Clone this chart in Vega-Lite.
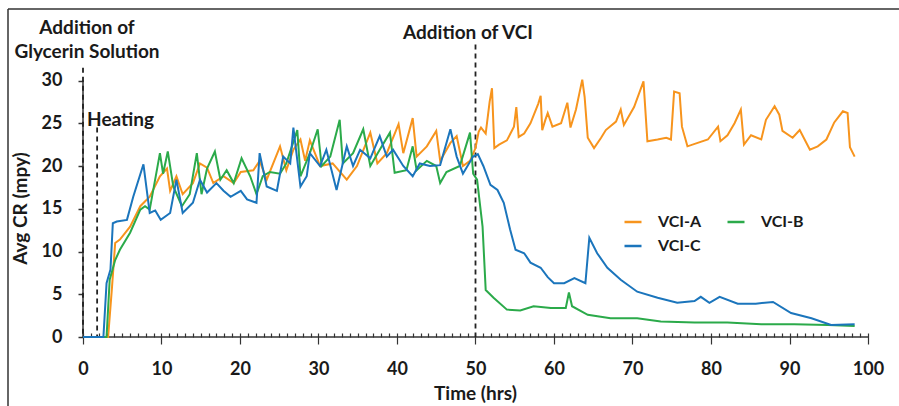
{
  "$schema": "https://vega.github.io/schema/vega-lite/v6.json",
  "description": "Average corrosion rate over time for three VCI formulations, with glycerin, heating and VCI addition events.",
  "autosize": "none",
  "padding": {"left": 8, "top": 9, "right": 0, "bottom": 0},
  "width": 891,
  "height": 397,
  "background": "white",
  "config": {
    "view": {"stroke": null},
    "font": "Lato",
    "axis": {"ticks": true, "labelFont": "Lato", "titleFont": "Lato", "labelFontWeight": "bold", "titleFontWeight": "bold", "labelColor": "#1a1a1a", "titleColor": "#1a1a1a", "tickColor": "#333", "tickOpacity": 1, "grid": false}
  },
  "datasets": {
    "cr": [
      {"series": "VCI-A", "t": 0, "v": 0}, {"series": "VCI-A", "t": 3.2, "v": 0}, {"series": "VCI-A", "t": 3.7, "v": 5.9}, {"series": "VCI-A", "t": 4.1, "v": 11}, {"series": "VCI-A", "t": 4.7, "v": 11.4}, {"series": "VCI-A", "t": 6.0, "v": 12.9}, {"series": "VCI-A", "t": 7.3, "v": 15.3}, {"series": "VCI-A", "t": 8.5, "v": 16.4}, {"series": "VCI-A", "t": 9.8, "v": 18.8}, {"series": "VCI-A", "t": 10.7, "v": 19.7}, {"series": "VCI-A", "t": 11.1, "v": 17.1}, {"series": "VCI-A", "t": 11.9, "v": 18.8}, {"series": "VCI-A", "t": 12.7, "v": 16.7}, {"series": "VCI-A", "t": 14.0, "v": 18}, {"series": "VCI-A", "t": 14.9, "v": 20.3}, {"series": "VCI-A", "t": 15.8, "v": 19.8}, {"series": "VCI-A", "t": 16.6, "v": 18}, {"series": "VCI-A", "t": 17.9, "v": 18.8}, {"series": "VCI-A", "t": 19.2, "v": 18}, {"series": "VCI-A", "t": 20.1, "v": 19.3}, {"series": "VCI-A", "t": 21.7, "v": 19.5}, {"series": "VCI-A", "t": 22.5, "v": 20.6}, {"series": "VCI-A", "t": 23.4, "v": 18.4}, {"series": "VCI-A", "t": 25.1, "v": 22.3}, {"series": "VCI-A", "t": 25.9, "v": 19.5}, {"series": "VCI-A", "t": 26.8, "v": 21.9}, {"series": "VCI-A", "t": 27.7, "v": 23.1}, {"series": "VCI-A", "t": 28.3, "v": 20.6}, {"series": "VCI-A", "t": 28.9, "v": 23}, {"series": "VCI-A", "t": 30.2, "v": 20}, {"series": "VCI-A", "t": 31.8, "v": 20.3}, {"series": "VCI-A", "t": 33.6, "v": 18.4}, {"series": "VCI-A", "t": 34.9, "v": 20}, {"series": "VCI-A", "t": 36.6, "v": 23.9}, {"series": "VCI-A", "t": 37.5, "v": 20.3}, {"series": "VCI-A", "t": 38.7, "v": 21.5}, {"series": "VCI-A", "t": 40.2, "v": 24.9}, {"series": "VCI-A", "t": 40.8, "v": 21.5}, {"series": "VCI-A", "t": 42.0, "v": 25.6}, {"series": "VCI-A", "t": 42.5, "v": 21.1}, {"series": "VCI-A", "t": 43.8, "v": 22.3}, {"series": "VCI-A", "t": 45.0, "v": 24.1}, {"series": "VCI-A", "t": 45.5, "v": 20.6}, {"series": "VCI-A", "t": 46.8, "v": 22.7}, {"series": "VCI-A", "t": 47.6, "v": 23.5}, {"series": "VCI-A", "t": 48.4, "v": 20}, {"series": "VCI-A", "t": 49.3, "v": 20.6}, {"series": "VCI-A", "t": 50.0, "v": 22.1}, {"series": "VCI-A", "t": 50.4, "v": 24.0}, {"series": "VCI-A", "t": 50.7, "v": 24.5}, {"series": "VCI-A", "t": 51.3, "v": 23.8}, {"series": "VCI-A", "t": 51.8, "v": 27.5}, {"series": "VCI-A", "t": 52.1, "v": 29.1}, {"series": "VCI-A", "t": 52.4, "v": 22.1}, {"series": "VCI-A", "t": 53.0, "v": 22.5}, {"series": "VCI-A", "t": 54.0, "v": 23.0}, {"series": "VCI-A", "t": 54.9, "v": 24.6}, {"series": "VCI-A", "t": 55.2, "v": 26.9}, {"series": "VCI-A", "t": 55.5, "v": 23.4}, {"series": "VCI-A", "t": 56.2, "v": 23.8}, {"series": "VCI-A", "t": 57.0, "v": 25.0}, {"series": "VCI-A", "t": 58.0, "v": 27.3}, {"series": "VCI-A", "t": 58.3, "v": 28.2}, {"series": "VCI-A", "t": 58.5, "v": 24.2}, {"series": "VCI-A", "t": 58.9, "v": 25.4}, {"series": "VCI-A", "t": 59.2, "v": 26.2}, {"series": "VCI-A", "t": 59.8, "v": 24.6}, {"series": "VCI-A", "t": 60.9, "v": 25.0}, {"series": "VCI-A", "t": 61.7, "v": 27.4}, {"series": "VCI-A", "t": 62.1, "v": 24.5}, {"series": "VCI-A", "t": 62.8, "v": 26.6}, {"series": "VCI-A", "t": 63.6, "v": 30.1}, {"series": "VCI-A", "t": 63.9, "v": 28.1}, {"series": "VCI-A", "t": 64.3, "v": 23.3}, {"series": "VCI-A", "t": 65.1, "v": 22.1}, {"series": "VCI-A", "t": 66.0, "v": 23.3}, {"series": "VCI-A", "t": 66.6, "v": 24.2}, {"series": "VCI-A", "t": 67.9, "v": 25.2}, {"series": "VCI-A", "t": 68.5, "v": 26.6}, {"series": "VCI-A", "t": 68.9, "v": 24.8}, {"series": "VCI-A", "t": 70.2, "v": 26.9}, {"series": "VCI-A", "t": 71.4, "v": 29.9}, {"series": "VCI-A", "t": 71.9, "v": 22.9}, {"series": "VCI-A", "t": 73.2, "v": 23.1}, {"series": "VCI-A", "t": 74.3, "v": 23.3}, {"series": "VCI-A", "t": 74.9, "v": 23.1}, {"series": "VCI-A", "t": 75.3, "v": 28.7}, {"series": "VCI-A", "t": 76.0, "v": 28.5}, {"series": "VCI-A", "t": 76.3, "v": 24.6}, {"series": "VCI-A", "t": 77.0, "v": 22.3}, {"series": "VCI-A", "t": 78.3, "v": 22.7}, {"series": "VCI-A", "t": 79.6, "v": 23.1}, {"series": "VCI-A", "t": 80.9, "v": 24.6}, {"series": "VCI-A", "t": 81.2, "v": 22.9}, {"series": "VCI-A", "t": 82.1, "v": 23.6}, {"series": "VCI-A", "t": 83.0, "v": 25.0}, {"series": "VCI-A", "t": 83.8, "v": 26.6}, {"series": "VCI-A", "t": 84.2, "v": 22.5}, {"series": "VCI-A", "t": 85.1, "v": 23.6}, {"series": "VCI-A", "t": 86.4, "v": 23.1}, {"series": "VCI-A", "t": 87.0, "v": 25.4}, {"series": "VCI-A", "t": 88.1, "v": 27.0}, {"series": "VCI-A", "t": 88.7, "v": 26.0}, {"series": "VCI-A", "t": 89.1, "v": 24.1}, {"series": "VCI-A", "t": 90.4, "v": 23.3}, {"series": "VCI-A", "t": 91.3, "v": 24.2}, {"series": "VCI-A", "t": 92.6, "v": 21.9}, {"series": "VCI-A", "t": 93.6, "v": 22.3}, {"series": "VCI-A", "t": 94.7, "v": 23.1}, {"series": "VCI-A", "t": 95.7, "v": 25.1}, {"series": "VCI-A", "t": 96.8, "v": 26.4}, {"series": "VCI-A", "t": 97.4, "v": 26.2}, {"series": "VCI-A", "t": 97.7, "v": 22.2}, {"series": "VCI-A", "t": 98.3, "v": 21.1},

      {"series": "VCI-B", "t": 0, "v": 0}, {"series": "VCI-B", "t": 3.0, "v": 0}, {"series": "VCI-B", "t": 3.4, "v": 6.7}, {"series": "VCI-B", "t": 4.1, "v": 9}, {"series": "VCI-B", "t": 4.7, "v": 10.2}, {"series": "VCI-B", "t": 6.0, "v": 12.2}, {"series": "VCI-B", "t": 7.3, "v": 14.9}, {"series": "VCI-B", "t": 7.9, "v": 15.3}, {"series": "VCI-B", "t": 8.5, "v": 14.9}, {"series": "VCI-B", "t": 9.8, "v": 21.5}, {"series": "VCI-B", "t": 10.2, "v": 19.1}, {"series": "VCI-B", "t": 10.8, "v": 21.7}, {"series": "VCI-B", "t": 11.5, "v": 17.6}, {"series": "VCI-B", "t": 12.6, "v": 15.3}, {"series": "VCI-B", "t": 13.6, "v": 16.7}, {"series": "VCI-B", "t": 14.5, "v": 21.5}, {"series": "VCI-B", "t": 15.1, "v": 16.7}, {"series": "VCI-B", "t": 15.8, "v": 19.7}, {"series": "VCI-B", "t": 16.8, "v": 21.7}, {"series": "VCI-B", "t": 17.5, "v": 18.4}, {"series": "VCI-B", "t": 18.3, "v": 19.5}, {"series": "VCI-B", "t": 19.2, "v": 18}, {"series": "VCI-B", "t": 20.2, "v": 20.9}, {"series": "VCI-B", "t": 21.3, "v": 18.8}, {"series": "VCI-B", "t": 22.1, "v": 16.7}, {"series": "VCI-B", "t": 22.9, "v": 18.8}, {"series": "VCI-B", "t": 23.8, "v": 19.3}, {"series": "VCI-B", "t": 25.1, "v": 19.1}, {"series": "VCI-B", "t": 25.9, "v": 20.3}, {"series": "VCI-B", "t": 27.3, "v": 24.2}, {"series": "VCI-B", "t": 27.7, "v": 18.8}, {"series": "VCI-B", "t": 28.9, "v": 21.5}, {"series": "VCI-B", "t": 29.9, "v": 24.3}, {"series": "VCI-B", "t": 30.4, "v": 20}, {"series": "VCI-B", "t": 31.5, "v": 21.1}, {"series": "VCI-B", "t": 32.7, "v": 25.4}, {"series": "VCI-B", "t": 33.1, "v": 20.3}, {"series": "VCI-B", "t": 34.4, "v": 21.5}, {"series": "VCI-B", "t": 35.7, "v": 24.3}, {"series": "VCI-B", "t": 36.6, "v": 20}, {"series": "VCI-B", "t": 37.8, "v": 21.9}, {"series": "VCI-B", "t": 39.1, "v": 23.9}, {"series": "VCI-B", "t": 39.7, "v": 19.2}, {"series": "VCI-B", "t": 41.2, "v": 19.5}, {"series": "VCI-B", "t": 42.0, "v": 22.3}, {"series": "VCI-B", "t": 42.5, "v": 19.5}, {"series": "VCI-B", "t": 43.8, "v": 20.6}, {"series": "VCI-B", "t": 45.0, "v": 20}, {"series": "VCI-B", "t": 45.5, "v": 18}, {"series": "VCI-B", "t": 46.3, "v": 19.3}, {"series": "VCI-B", "t": 48.0, "v": 20}, {"series": "VCI-B", "t": 49.3, "v": 23.9}, {"series": "VCI-B", "t": 49.7, "v": 19.1}, {"series": "VCI-B", "t": 50.2, "v": 18.4}, {"series": "VCI-B", "t": 50.9, "v": 12.9}, {"series": "VCI-B", "t": 51.3, "v": 5.5}, {"series": "VCI-B", "t": 52.3, "v": 4.6}, {"series": "VCI-B", "t": 54.0, "v": 3.2}, {"series": "VCI-B", "t": 55.7, "v": 3.1}, {"series": "VCI-B", "t": 57.4, "v": 3.6}, {"series": "VCI-B", "t": 59.6, "v": 3.4}, {"series": "VCI-B", "t": 61.5, "v": 3.4}, {"series": "VCI-B", "t": 61.9, "v": 5.2}, {"series": "VCI-B", "t": 62.3, "v": 3.6}, {"series": "VCI-B", "t": 64.3, "v": 2.6}, {"series": "VCI-B", "t": 67.2, "v": 2.2}, {"series": "VCI-B", "t": 70.6, "v": 2.2}, {"series": "VCI-B", "t": 73.6, "v": 1.8}, {"series": "VCI-B", "t": 77.9, "v": 1.7}, {"series": "VCI-B", "t": 82.1, "v": 1.7}, {"series": "VCI-B", "t": 86.4, "v": 1.5}, {"series": "VCI-B", "t": 90.6, "v": 1.5}, {"series": "VCI-B", "t": 94.9, "v": 1.4}, {"series": "VCI-B", "t": 98.3, "v": 1.3},

      {"series": "VCI-C", "t": 0, "v": 0}, {"series": "VCI-C", "t": 2.6, "v": 0}, {"series": "VCI-C", "t": 3.0, "v": 6.3}, {"series": "VCI-C", "t": 3.5, "v": 7.9}, {"series": "VCI-C", "t": 3.8, "v": 13.3}, {"series": "VCI-C", "t": 4.3, "v": 13.5}, {"series": "VCI-C", "t": 5.6, "v": 13.7}, {"series": "VCI-C", "t": 6.4, "v": 16.4}, {"series": "VCI-C", "t": 7.7, "v": 20.2}, {"series": "VCI-C", "t": 8.5, "v": 14.5}, {"series": "VCI-C", "t": 9.2, "v": 14.8}, {"series": "VCI-C", "t": 9.9, "v": 13.7}, {"series": "VCI-C", "t": 11.1, "v": 14.5}, {"series": "VCI-C", "t": 11.9, "v": 18.4}, {"series": "VCI-C", "t": 12.7, "v": 14.5}, {"series": "VCI-C", "t": 14.0, "v": 15.7}, {"series": "VCI-C", "t": 14.9, "v": 18.4}, {"series": "VCI-C", "t": 15.8, "v": 16.9}, {"series": "VCI-C", "t": 17.0, "v": 18}, {"series": "VCI-C", "t": 17.9, "v": 17.1}, {"series": "VCI-C", "t": 18.8, "v": 16.4}, {"series": "VCI-C", "t": 20.1, "v": 17.1}, {"series": "VCI-C", "t": 20.9, "v": 16.1}, {"series": "VCI-C", "t": 22.1, "v": 15.7}, {"series": "VCI-C", "t": 22.5, "v": 21.5}, {"series": "VCI-C", "t": 23.4, "v": 17.6}, {"series": "VCI-C", "t": 24.7, "v": 17.1}, {"series": "VCI-C", "t": 25.5, "v": 21.1}, {"series": "VCI-C", "t": 26.4, "v": 20.3}, {"series": "VCI-C", "t": 26.8, "v": 24.5}, {"series": "VCI-C", "t": 27.7, "v": 17.6}, {"series": "VCI-C", "t": 28.5, "v": 18.8}, {"series": "VCI-C", "t": 28.9, "v": 21.5}, {"series": "VCI-C", "t": 30.2, "v": 20}, {"series": "VCI-C", "t": 31.0, "v": 21.9}, {"series": "VCI-C", "t": 32.3, "v": 17.2}, {"series": "VCI-C", "t": 33.6, "v": 22.3}, {"series": "VCI-C", "t": 34.4, "v": 20}, {"series": "VCI-C", "t": 35.3, "v": 21.9}, {"series": "VCI-C", "t": 36.6, "v": 20.9}, {"series": "VCI-C", "t": 37.8, "v": 23.5}, {"series": "VCI-C", "t": 38.7, "v": 21.1}, {"series": "VCI-C", "t": 39.5, "v": 21.9}, {"series": "VCI-C", "t": 40.8, "v": 20}, {"series": "VCI-C", "t": 42.0, "v": 18.8}, {"series": "VCI-C", "t": 42.9, "v": 20.3}, {"series": "VCI-C", "t": 44.2, "v": 20}, {"series": "VCI-C", "t": 45.5, "v": 20.1}, {"series": "VCI-C", "t": 46.8, "v": 24.3}, {"series": "VCI-C", "t": 47.6, "v": 21.1}, {"series": "VCI-C", "t": 48.4, "v": 19.1}, {"series": "VCI-C", "t": 49.7, "v": 21.1}, {"series": "VCI-C", "t": 50.3, "v": 21.4}, {"series": "VCI-C", "t": 51.0, "v": 20}, {"series": "VCI-C", "t": 51.9, "v": 17.8}, {"series": "VCI-C", "t": 52.8, "v": 17.2}, {"series": "VCI-C", "t": 53.6, "v": 15.7}, {"series": "VCI-C", "t": 54.4, "v": 12.6}, {"series": "VCI-C", "t": 55.1, "v": 10.2}, {"series": "VCI-C", "t": 56.2, "v": 9.8}, {"series": "VCI-C", "t": 57.0, "v": 8.7}, {"series": "VCI-C", "t": 58.3, "v": 8.1}, {"series": "VCI-C", "t": 59.2, "v": 7.0}, {"series": "VCI-C", "t": 60.0, "v": 6.3}, {"series": "VCI-C", "t": 61.3, "v": 6.3}, {"series": "VCI-C", "t": 62.6, "v": 6.9}, {"series": "VCI-C", "t": 64.0, "v": 6.3}, {"series": "VCI-C", "t": 64.5, "v": 11.6}, {"series": "VCI-C", "t": 65.5, "v": 9.8}, {"series": "VCI-C", "t": 66.8, "v": 8.1}, {"series": "VCI-C", "t": 68.5, "v": 6.7}, {"series": "VCI-C", "t": 70.6, "v": 5.3}, {"series": "VCI-C", "t": 73.2, "v": 4.6}, {"series": "VCI-C", "t": 75.7, "v": 4}, {"series": "VCI-C", "t": 77.9, "v": 4.2}, {"series": "VCI-C", "t": 78.7, "v": 4.7}, {"series": "VCI-C", "t": 79.8, "v": 4}, {"series": "VCI-C", "t": 81.1, "v": 4.7}, {"series": "VCI-C", "t": 83.4, "v": 3.9}, {"series": "VCI-C", "t": 85.7, "v": 3.9}, {"series": "VCI-C", "t": 87.9, "v": 4.1}, {"series": "VCI-C", "t": 90.2, "v": 2.8}, {"series": "VCI-C", "t": 92.8, "v": 2.2}, {"series": "VCI-C", "t": 95.3, "v": 1.4}, {"series": "VCI-C", "t": 98.3, "v": 1.5}
    ],
    "events": [
      {"event": "Addition of Glycerin Solution", "t": 0, "top": 31.5},
      {"event": "Heating", "t": 1.8, "top": 24.5},
      {"event": "Addition of VCI", "t": 50, "top": 34.2}
    ],
    "guides": [
      {"guide": "frame top", "x": -9.554, "x2": 103.949, "y": 38.363, "y2": 38.363},
      {"guide": "frame left", "x": -9.554, "x2": -9.554, "y": -8.07, "y2": 38.363},
      {"guide": "time axis", "x": 0, "x2": 100, "y": 0, "y2": 0},
      {"guide": "rate axis", "x": 0, "x2": 0, "y": 0, "y2": 30}
    ],
    "notes": [
      {"note": "Addition of", "t": 0.51, "v": 36.14},
      {"note": "Glycerin Solution", "t": 0.51, "v": 33.33},
      {"note": "Heating", "t": 4.78, "v": 25.38},
      {"note": "Addition of VCI", "t": 49.04, "v": 35.56}
    ]
  },
  "encoding": {
    "x": {
      "field": "t", "type": "quantitative",
      "scale": {"domain": [-9.554, 103.949], "nice": false, "zero": false},
      "axis": {
        "orient": "bottom", "offset": -73, "domain": false, "ticks": true,
        "values": [0,1,2,3,4,5,6,7,8,9,10,11,12,13,14,15,16,17,18,19,20,21,22,23,24,25,26,27,28,29,30,31,32,33,34,35,36,37,38,39,40,41,42,43,44,45,46,47,48,49,50,51,52,53,54,55,56,57,58,59,60,61,62,63,64,65,66,67,68,69,70,71,72,73,74,75,76,77,78,79,80,81,82,83,84,85,86,87,88,89,90,91,92,93,94,95,96,97,98,99,100],
        "labelExpr": "datum.value % 10 === 0 ? datum.label : ''",
        "labelOverlap": false,
        "labelFlush": false,
        "tickSize": 11,
        "tickDash": {"condition": {"test": "datum.value % 10 === 0", "value": [12, 1]}, "value": [4, 20]},
        "tickWidth": 1.2,
        "labelFontSize": 18, "labelPadding": 16,
        "title": "Time (hrs)", "titleFontSize": 19, "titleX": 467, "titleY": 60, "titleBaseline": "middle", "titleAlign": "center"
      }
    },
    "y": {
      "field": "v", "type": "quantitative",
      "scale": {"domain": [-8.07, 38.363], "nice": false, "zero": false},
      "axis": {"orient": "left", "offset": -75, "domain": false, "ticks": true, "values": [0,5,10,15,20,25,30], "tickSize": 5, "tickWidth": 1.5, "labelFontSize": 18, "labelPadding": 16, "title": "Avg CR (mpy)", "titleFontSize": 19, "titleX": -62.5, "titleY": 199, "titleBaseline": "middle", "titleAlign": "center", "titleAngle": -90}
    }
  },
  "layer": [
    {
      "data": {"name": "guides"},
      "mark": {"type": "rule", "color": "#333", "strokeWidth": 1.5},
      "encoding": {
        "x": {"field": "x", "type": "quantitative"},
        "x2": {"field": "x2"},
        "y": {"field": "y", "type": "quantitative"},
        "y2": {"field": "y2"}
      }
    },
    {
      "data": {"name": "events"},
      "mark": {"type": "rule", "color": "#222", "strokeWidth": 1.8, "strokeDash": [5, 4]},
      "encoding": {
        "y": {"field": "top", "type": "quantitative"},
        "y2": {"datum": 0}
      }
    },
    {
      "data": {"name": "cr"},
      "mark": {"type": "line", "strokeWidth": 2},
      "encoding": {
        "color": {
          "field": "series", "type": "nominal",
          "scale": {"domain": ["VCI-A", "VCI-C", "VCI-B"], "range": ["#F7941D", "#1B75BC", "#2BAA4A"]},
          "legend": {"orient": "none", "legendX": 615, "legendY": 203, "columns": 2, "title": null, "padding": 0, "symbolType": "stroke", "symbolSize": 289, "symbolStrokeWidth": 2.5, "labelFont": "Lato", "labelFontWeight": "bold", "labelFontSize": 16, "labelColor": "#1a1a1a", "labelOffset": 15, "columnPadding": 20, "rowPadding": 6}
        }
      }
    },
    {
      "data": {"name": "notes"},
      "mark": {"type": "text", "font": "Lato", "fontWeight": "bold", "fontSize": 19, "align": "center", "baseline": "middle", "color": "#1a1a1a"},
      "encoding": {
        "text": {"field": "note", "type": "nominal"}
      }
    }
  ]
}
